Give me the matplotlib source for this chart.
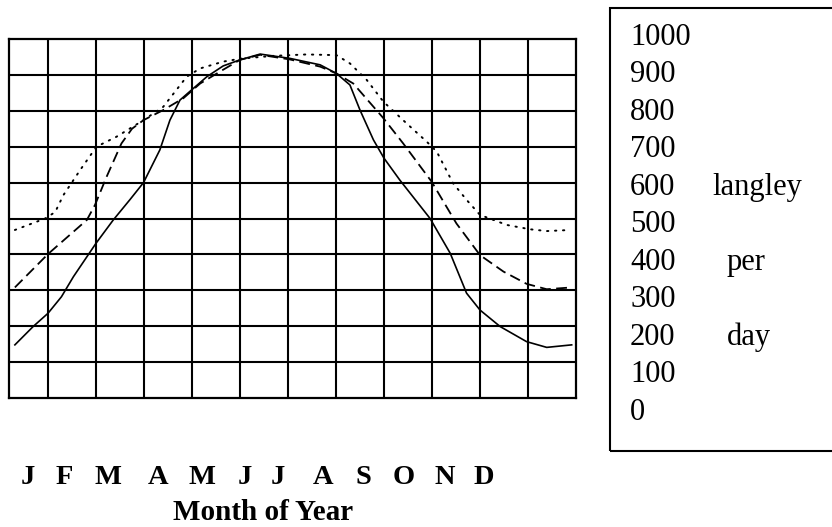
import matplotlib.pyplot as plt
from matplotlib.patches import Rectangle

# months of year (grid units, 1 unit per column), langley per day
x_solid = [0.31, 0.69, 1.0, 1.28, 1.53, 2.0, 2.36, 2.71, 2.99, 3.33, 3.54, 3.75,
           3.99, 4.31, 4.65, 5.0, 5.42, 6.04, 6.67, 7.01, 7.29, 7.5, 7.78, 8.0,
           8.33, 8.96, 9.38, 9.72, 10.0, 10.42, 10.97, 11.39, 11.91]
y_solid = [148, 199, 236, 282, 338, 431, 496, 553, 600, 691, 774, 830,
           858, 895, 925, 942, 958, 946, 928, 904, 872, 802, 719, 668,
           607, 500, 403, 292, 245, 199, 157, 141, 148]

x_dashed = [0.31, 1.0, 1.81, 1.98, 2.22, 2.53, 2.75, 2.99, 3.40, 3.82, 4.17,
            4.58, 5.0, 5.42, 6.04, 6.67, 7.01, 7.36, 7.99, 8.40, 8.99, 9.51,
            10.0, 10.49, 10.97, 11.39, 11.91]
y_dashed = [308, 401, 496, 538, 616, 709, 750, 774, 802, 835, 876,
            909, 942, 956, 943, 923, 904, 876, 779, 709, 603, 486,
            398, 352, 318, 303, 308]

x_dotted = [0.31, 0.94, 1.15, 1.32, 1.67, 2.01, 2.43, 2.99, 3.40, 3.89, 4.17,
            4.65, 5.0, 5.69, 6.39, 7.01, 7.29, 7.64, 7.99, 8.47, 8.89, 9.10,
            9.44, 9.72, 10.0, 10.56, 11.04, 11.39, 11.88]
y_dotted = [468, 500, 518, 565, 635, 700, 728, 774, 811, 895, 918,
            937, 945, 953, 957, 955, 932, 886, 825, 765, 714, 686,
            598, 552, 510, 482, 470, 465, 468]

months = ['J', 'F', 'M', 'A', 'M', 'J', 'J', 'A', 'S', 'O', 'N', 'D']
scale_labels = [1000, 900, 800, 700, 600, 500, 400, 300, 200, 100, 0]
unit_words = {600: 'langley', 400: 'per', 200: 'day'}

W, H = 832, 527
fig = plt.figure(figsize=(W / 100, H / 100), dpi=100)
serif = ['Liberation Serif', 'DejaVu Serif']

ax = fig.add_axes([8.5 / W, (H - 398) / H, (576 - 8.5) / W, (398 - 39) / H])
ax.set_xlim(0.177, 12)
ax.set_ylim(0, 1000)
ax.set_xticks(range(1, 12))
ax.set_yticks(range(100, 1000, 100))
ax.grid(True, color='black', lw=1.5)
ax.tick_params(length=0, labelbottom=False, labelleft=False)
for s in ax.spines.values():
    s.set_linewidth(1.6)

ax.plot(x_solid, y_solid, color='black', lw=1.2, solid_joinstyle='round')
ax.plot(x_dashed, y_dashed, color='black', lw=1.3, dashes=(6, 3))
ax.plot(x_dotted, y_dotted, color='black', lw=1.4, dashes=(0.7, 3.4),
        dash_capstyle='round')

# month letters below the grid
month_px = [28, 64, 108, 158, 202, 245, 278, 323, 363, 404, 445, 484]
for m, px in zip(months, month_px):
    fig.text(px / W, 1 - 478 / H, m, ha='center', va='center',
             family=serif, weight='bold', fontsize=20.5)
fig.text(263 / W, 1 - 512 / H, 'Month of Year', ha='center', va='center',
         family=serif, weight='bold', fontsize=21)

# scale box on the right
fig.patches.append(Rectangle((610 / W, 1 - 451 / H), 0.5, (451 - 8) / H,
                             transform=fig.transFigure, fill=False,
                             ec='black', lw=1.5))
for i, v in enumerate(scale_labels):
    yy = 1 - (37.5 + i * 37.45) / H
    fig.text(630 / W, yy, str(v), ha='left', va='center',
             family=serif, fontsize=22)
    if v in unit_words:
        px = 712 if v == 600 else 727
        fig.text(px / W, yy, unit_words[v], ha='left', va='center',
                 family=serif, fontsize=22)

fig.savefig('out.png', dpi=100)
